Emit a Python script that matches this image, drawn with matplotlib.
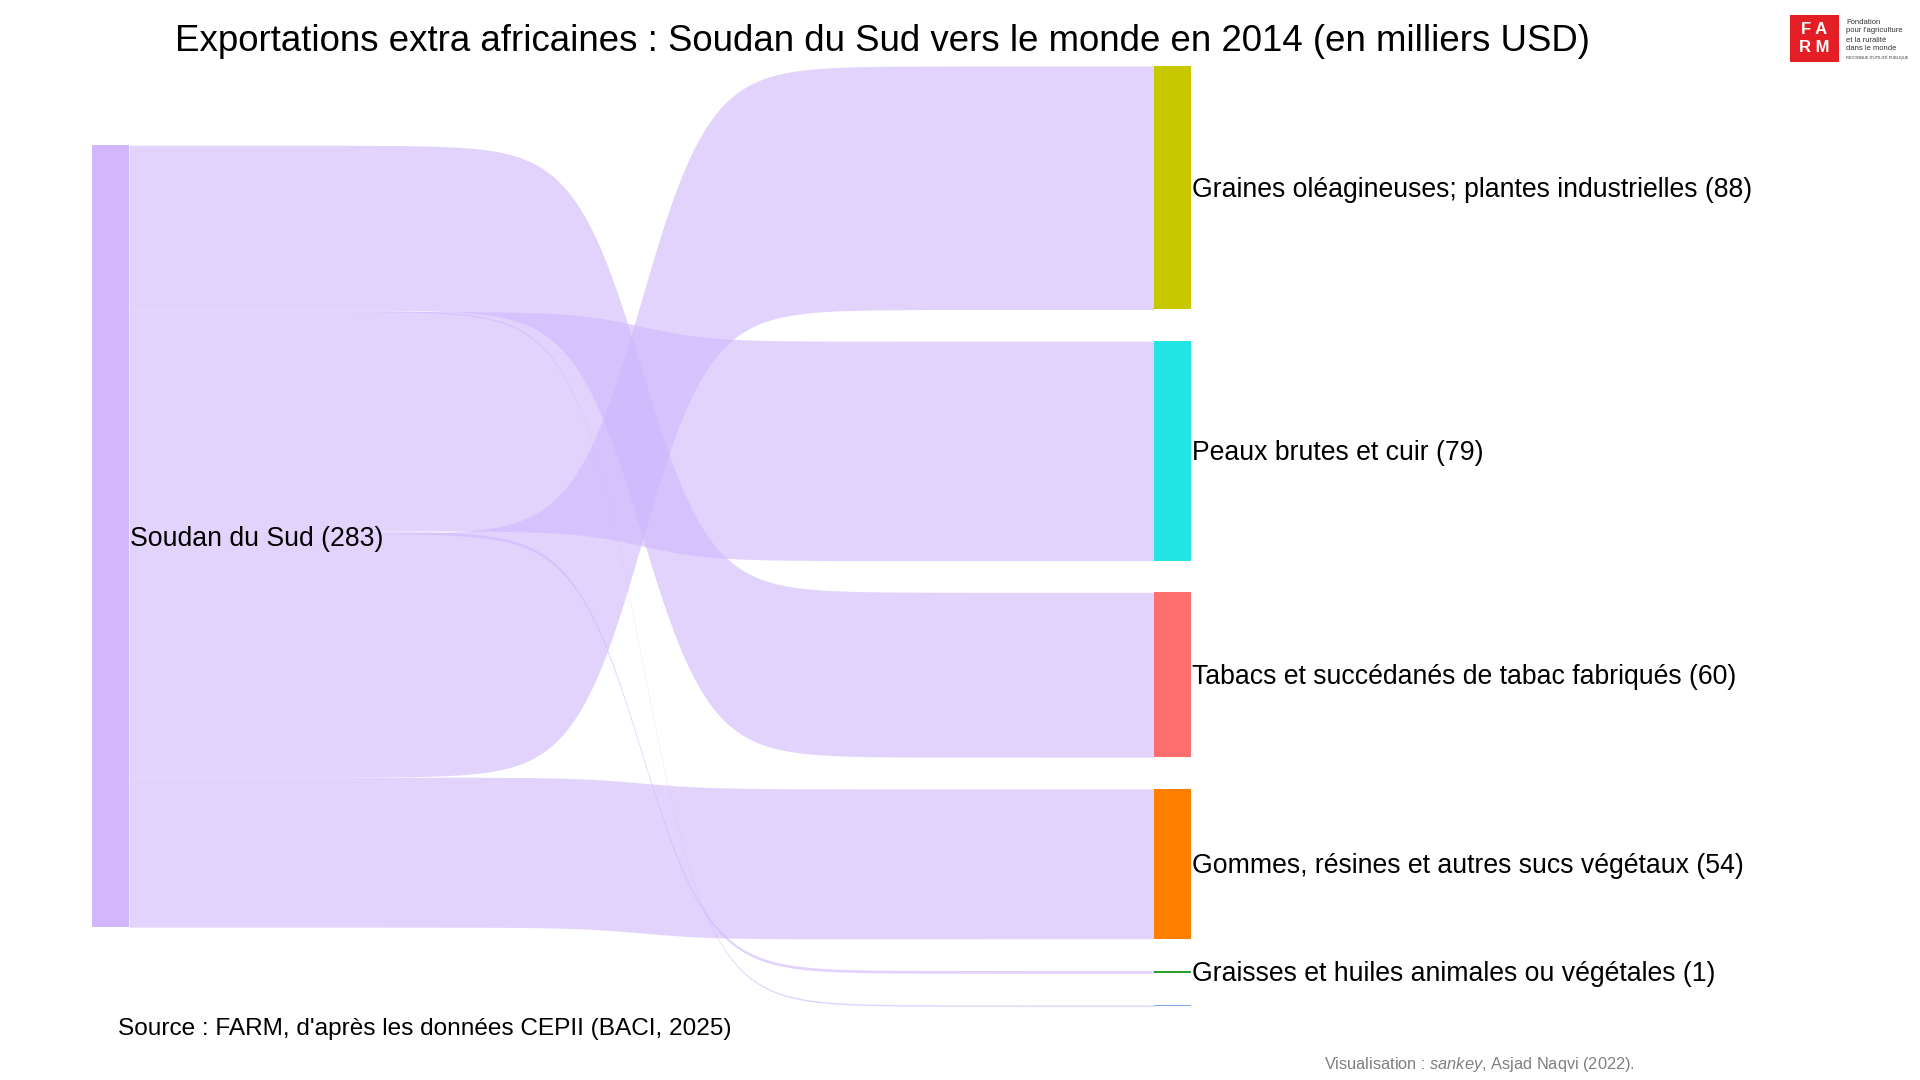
import matplotlib.pyplot as plt
import numpy as np
from matplotlib.patches import Rectangle

plt.rcParams['font.family'] = ['Liberation Sans', 'DejaVu Sans']
plt.rcParams['mathtext.fontset'] = 'custom'
plt.rcParams['mathtext.it'] = 'Liberation Sans:italic'
plt.rcParams['mathtext.rm'] = 'Liberation Sans'

# Data (milliers USD)
source = "Soudan du Sud"
products = ["Graines oléagineuses; plantes industrielles",
            "Peaux brutes et cuir",
            "Tabacs et succédanés de tabac fabriqués",
            "Gommes, résines et autres sucs végétaux",
            "Graisses et huiles animales ou végétales",
            "Autres"]
values = [88.0, 79.3, 59.6, 54.2, 1.0, 0.5]
node_colors = ["#c8c800", "#24e5e5", "#ff6f6f", "#ff7f00", "#2ca02c", "#7aa8e6"]
# order of the flows leaving the source node, top to bottom
left_order = [2, 5, 1, 4, 0, 3]

# Layout
scale = 2.767          # px per unit
gap = 11.45            # units between right nodes
top_px = 66
xl0, xl1 = 92, 129     # left node
xr0, xr1 = 1154, 1191  # right nodes
flow_color = "#cfb7fd"
k = 30
lab_dy = 0.9           # small downward nudge of the labels (units)

fig = plt.figure(figsize=(19.2, 10.8), dpi=100)
ax = fig.add_axes([0, 0, 1, 1])
y_top = -top_px / scale
ax.set_xlim(0, 1920)
ax.set_ylim(y_top + 1080 / scale, y_top)
ax.axis('off')

# right node positions
right_pos = []
y = 0
for v in values:
    right_pos.append(y)
    y += v + gap
right_total = y - gap
total = sum(values)
left_start = (right_total - total) / 2

# flows
t = np.linspace(0, 1, 400)
s = 1 / (1 + np.exp(-k * (t - 0.5)))
s = (s - s[0]) / (s[-1] - s[0])
xs = xl1 + (xr0 - xl1) * t
ly = left_start
for i in left_order:
    v = values[i]
    ry = right_pos[i]
    top = ly + (ry - ly) * s
    ax.fill_between(xs, top, top + v, color=flow_color, alpha=0.6, lw=0)
    ly += v

# nodes
ax.add_patch(Rectangle((xl0, left_start), xl1 - xl0, total, color="#d3b7fc", lw=0))
ax.text(xl1 + 1, left_start + total / 2 + lab_dy, f"{source} ({total:.0f})",
        fontsize=19.2, va='center', ha='left')
for i, v in enumerate(values):
    ax.add_patch(Rectangle((xr0, right_pos[i]), xr1 - xr0, v, color=node_colors[i], lw=0))
    if round(v) >= 1:
        ax.text(xr1 + 1, right_pos[i] + v / 2 + lab_dy, f"{products[i]} ({v:.0f})",
                fontsize=19.2, va='center', ha='left')

# titles and notes
fig.text(0.4597, 0.962, "Exportations extra africaines : Soudan du Sud vers le monde en 2014 (en milliers USD)",
         fontsize=26.4, ha='center', va='center')
fig.text(118 / 1920, 1 - 1029 / 1080, "Source : FARM, d'après les données CEPII (BACI, 2025)",
         fontsize=17.6, ha='left', va='center')
fig.text(1324 / 1920, 1 - 1064 / 1080, "Visualisation : $\\it{sankey}$, Asjad Naqvi (2022).",
         fontsize=11.8, ha='left', va='center', color='#808080')

# logo
lax = fig.add_axes([1790 / 1920, 1 - 62 / 1080, 49 / 1920, 47 / 1080])
lax.set_xlim(0, 1)
lax.set_ylim(0, 1)
lax.axis('off')
lax.add_patch(Rectangle((0, 0), 1, 1, color="#e31e24", lw=0))
lax.text(0.5, 0.7, "F A", color='white', fontsize=12, fontweight='bold', ha='center', va='center')
lax.text(0.5, 0.3, "R M", color='white', fontsize=12, fontweight='bold', ha='center', va='center')
logo_lines = ["Fondation", "pour l'agriculture", "et la ruralité", "dans le monde"]
for j, line in enumerate(logo_lines):
    fig.text(1846 / 1920, 1 - (22 + j * 9) / 1080, line, fontsize=5.5, ha='left', va='center', color='#333333')
fig.text(1846 / 1920, 1 - 58 / 1080, "RECONNUE D'UTILITÉ PUBLIQUE", fontsize=2.8, ha='left',
         va='center', color='#333333')

fig.savefig("out.png", dpi=100)
